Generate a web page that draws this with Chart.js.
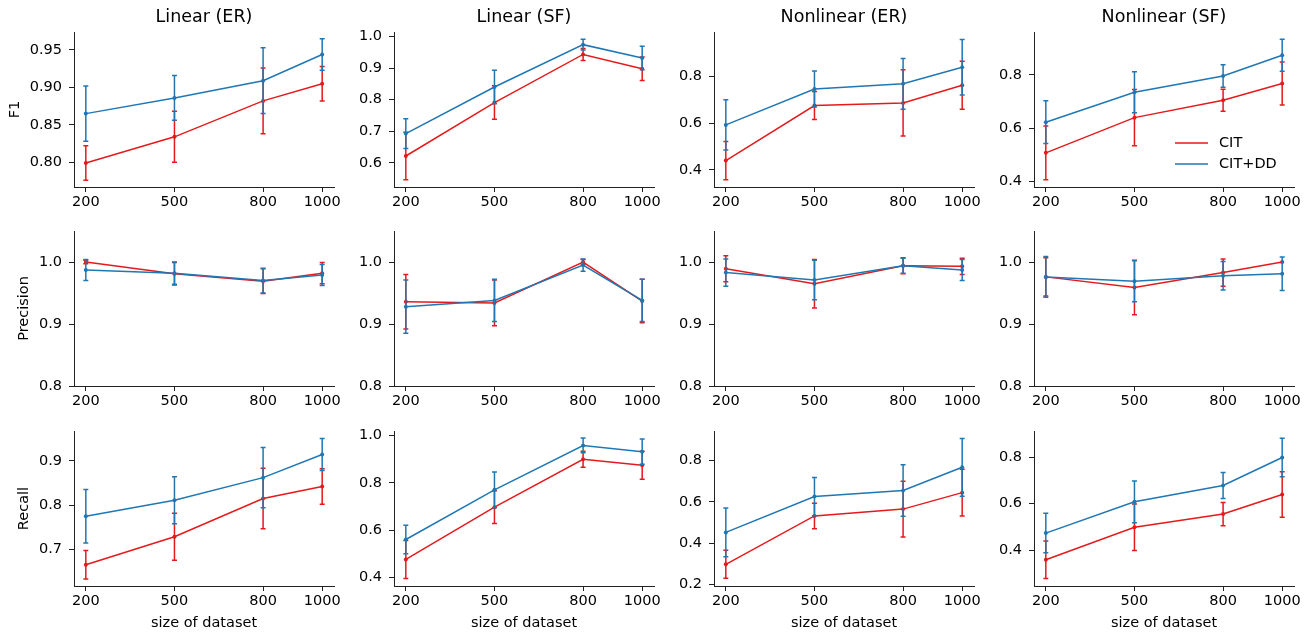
<!DOCTYPE html>
<html>
<head>
<meta charset="utf-8">
<script src="https://cdn.jsdelivr.net/npm/chart.js@4.4.1/dist/chart.umd.min.js"></script>
<style>
  html, body { margin: 0; padding: 0; background: #fff; }
  #wrap { position: relative; width: 1315px; height: 635px; overflow: hidden; }
  #wrap canvas { position: absolute; }
</style>
</head>
<body>
<div id="wrap"></div>
<script>
const sizes = [200, 500, 800, 1000];
const panelTitles = ['Linear (ER)', 'Linear (SF)', 'Nonlinear (ER)', 'Nonlinear (SF)'];
const metricNames = ['F1', 'Precision', 'Recall'];
const seriesNames = ['CIT', 'CIT+DD'];

// F1, one row per panel
const citF1 = [
  [0.799, 0.834, 0.882, 0.905],
  [0.622, 0.791, 0.943, 0.898],
  [0.440, 0.676, 0.687, 0.763],
  [0.508, 0.640, 0.705, 0.768]
];
const citF1Err = [
  [0.023, 0.034, 0.044, 0.023],
  [0.075, 0.053, 0.019, 0.037],
  [0.082, 0.060, 0.142, 0.103],
  [0.101, 0.105, 0.041, 0.081]
];
const ddF1 = [
  [0.865, 0.886, 0.909, 0.944],
  [0.693, 0.840, 0.974, 0.932],
  [0.593, 0.747, 0.769, 0.840],
  [0.623, 0.735, 0.796, 0.874]
];
const ddF1Err = [
  [0.037, 0.030, 0.044, 0.021],
  [0.047, 0.053, 0.017, 0.037],
  [0.108, 0.077, 0.109, 0.119],
  [0.080, 0.077, 0.042, 0.060]
];

// Precision
const citPrecision = [
  [1.000, 0.981, 0.969, 0.982],
  [0.936, 0.934, 1.000, 0.937],
  [0.989, 0.965, 0.994, 0.993],
  [0.976, 0.959, 0.983, 1.000]
];
const citPrecisionErr = [
  [0.003, 0.018, 0.020, 0.017],
  [0.044, 0.037, 0.004, 0.035],
  [0.021, 0.039, 0.013, 0.013],
  [0.031, 0.044, 0.022, 0.000]
];
const ddPrecision = [
  [0.987, 0.982, 0.970, 0.979],
  [0.928, 0.938, 0.995, 0.938],
  [0.983, 0.971, 0.994, 0.987],
  [0.976, 0.969, 0.978, 0.981]
];
const ddPrecisionErr = [
  [0.017, 0.018, 0.020, 0.017],
  [0.043, 0.034, 0.010, 0.034],
  [0.022, 0.032, 0.012, 0.017],
  [0.033, 0.033, 0.023, 0.027]
];

// Recall
const citRecall = [
  [0.666, 0.729, 0.815, 0.842],
  [0.477, 0.697, 0.899, 0.874],
  [0.297, 0.532, 0.565, 0.645],
  [0.358, 0.498, 0.555, 0.639]
];
const citRecallErr = [
  [0.032, 0.053, 0.068, 0.040],
  [0.080, 0.069, 0.034, 0.059],
  [0.068, 0.062, 0.135, 0.113],
  [0.081, 0.100, 0.050, 0.098]
];
const ddRecall = [
  [0.775, 0.811, 0.862, 0.914],
  [0.561, 0.770, 0.957, 0.931],
  [0.452, 0.626, 0.655, 0.768],
  [0.473, 0.608, 0.678, 0.799]
];
const ddRecallErr = [
  [0.060, 0.053, 0.068, 0.036],
  [0.060, 0.075, 0.031, 0.053],
  [0.118, 0.093, 0.125, 0.140],
  [0.085, 0.090, 0.056, 0.083]
];

// y limits and tick labels per panel
const f1Limits = [[0.767, 0.974], [0.524, 1.014], [0.327, 0.991], [0.38, 0.961]];
const precisionLimits = [[0.8, 1.05], [0.8, 1.05], [0.8, 1.05], [0.8, 1.05]];
const recallLimits = [[0.618, 0.967], [0.365, 1.018], [0.192, 0.944], [0.245, 0.913]];
const f1Ticks = [[0.80, 0.85, 0.90, 0.95], [0.6, 0.7, 0.8, 0.9, 1.0], [0.4, 0.6, 0.8], [0.4, 0.6, 0.8]];
const precisionTicks = [[0.8, 0.9, 1.0], [0.8, 0.9, 1.0], [0.8, 0.9, 1.0], [0.8, 0.9, 1.0]];
const recallTicks = [[0.7, 0.8, 0.9], [0.4, 0.6, 0.8, 1.0], [0.2, 0.4, 0.6, 0.8], [0.4, 0.6, 0.8]];

const rows = [
  { cit: citF1, citErr: citF1Err, dd: ddF1, ddErr: ddF1Err, lim: f1Limits, ticks: f1Ticks },
  { cit: citPrecision, citErr: citPrecisionErr, dd: ddPrecision, ddErr: ddPrecisionErr, lim: precisionLimits, ticks: precisionTicks },
  { cit: citRecall, citErr: citRecallErr, dd: ddRecall, ddErr: ddRecallErr, lim: recallLimits, ticks: recallTicks }
];

const RED = '#e41a1c';
const BLUE = '#1f77b4';
const FONT = 'DejaVu Sans';
const AXIS = '#222';

// plot area placement
const plotLeft = [74, 394, 714, 1034];
const plotTop = [32, 231, 431];
const plotW = 260, plotH = 155;
const yAxisW = 70, xAxisH = 50, padTop = 30, padRight = 14;

const errorBars = {
  id: 'errorBars',
  afterDatasetDraw(chart, args) {
    const ds = chart.data.datasets[args.index];
    if (!ds.errors) return;
    const { ctx, scales: { x, y } } = chart;
    ctx.save();
    ctx.strokeStyle = ds.borderColor;
    ctx.lineWidth = 1.5;
    ds.data.forEach((p, j) => {
      const e = ds.errors[j];
      if (!e) return;
      const px = x.getPixelForValue(p.x);
      const top = y.getPixelForValue(p.y + e);
      const bot = y.getPixelForValue(p.y - e);
      ctx.beginPath();
      ctx.moveTo(px, top); ctx.lineTo(px, bot);
      ctx.moveTo(px - 2.5, top); ctx.lineTo(px + 2.5, top);
      ctx.moveTo(px - 2.5, bot); ctx.lineTo(px + 2.5, bot);
      ctx.stroke();
    });
    ctx.restore();
  }
};

const cornerLegend = {
  id: 'cornerLegend',
  afterDraw(chart, args, opts) {
    if (!opts.show) return;
    const { ctx, chartArea } = chart;
    ctx.save();
    ctx.font = '14.5px "' + FONT + '"';
    ctx.textBaseline = 'middle';
    ctx.textAlign = 'left';
    chart.data.datasets.forEach((ds, i) => {
      const yy = chartArea.bottom - 44 + i * 21;
      const x0 = chartArea.right - 119;
      ctx.strokeStyle = ds.borderColor;
      ctx.lineWidth = 1.5;
      ctx.beginPath();
      ctx.moveTo(x0, yy); ctx.lineTo(x0 + 33, yy);
      ctx.stroke();
      ctx.fillStyle = '#000';
      ctx.fillText(ds.label, x0 + 44, yy);
    });
    ctx.restore();
  }
};

const wrap = document.getElementById('wrap');

rows.forEach((row, r) => {
  panelTitles.forEach((title, c) => {
    const canvas = document.createElement('canvas');
    canvas.width = yAxisW + plotW + padRight;
    canvas.height = padTop + plotH + xAxisH;
    canvas.style.left = (plotLeft[c] - yAxisW) + 'px';
    canvas.style.top = (plotTop[r] - padTop) + 'px';
    wrap.appendChild(canvas);

    const makeSet = (label, vals, errs, color, order) => ({
      label,
      data: sizes.map((x, j) => ({ x, y: vals[c][j] })),
      errors: errs[c],
      borderColor: color,
      backgroundColor: color,
      borderWidth: 1.5,
      pointRadius: 2,
      pointBorderWidth: 0,
      pointBackgroundColor: color,
      tension: 0,
      order
    });

    const dec = (r === 0 && c === 0) ? 2 : 1;
    const tickList = row.ticks[c];

    new Chart(canvas, {
      type: 'line',
      data: {
        datasets: [
          makeSet(seriesNames[0], row.cit, row.citErr, RED, 1),
          makeSet(seriesNames[1], row.dd, row.ddErr, BLUE, 0)
        ]
      },
      options: {
        responsive: false,
        animation: false,
        events: [],
        layout: {
          autoPadding: false,
          padding: { top: r === 0 ? 0 : padTop, left: 0, right: padRight, bottom: 0 }
        },
        plugins: {
          legend: { display: false },
          tooltip: { enabled: false },
          title: {
            display: r === 0,
            fullSize: false,
            text: title,
            color: '#000',
            font: { family: FONT, size: 17.5, weight: 'normal' },
            padding: { top: 5, bottom: 4 }
          },
          cornerLegend: { show: r === 0 && c === 3 }
        },
        scales: {
          x: {
            type: 'linear',
            min: 160,
            max: 1040,
            afterBuildTicks: s => { s.ticks = sizes.map(v => ({ value: v })); },
            afterFit: s => { s.height = xAxisH; },
            ticks: {
              autoSkip: false, maxRotation: 0, padding: 2, color: '#000',
              font: { family: FONT, size: 14.5 },
              callback: v => String(v)
            },
            grid: { display: true, drawOnChartArea: false, drawTicks: true, tickLength: 5, color: AXIS, lineWidth: 1 },
            border: { display: true, color: AXIS, width: 1 },
            title: {
              display: r === 2, text: 'size of dataset', color: '#000',
              font: { family: FONT, size: 14.5 }, padding: { top: 0, bottom: 4 }
            }
          },
          y: {
            min: row.lim[c][0],
            max: row.lim[c][1],
            afterBuildTicks: s => { s.ticks = tickList.map(v => ({ value: v })); },
            afterFit: s => { s.width = yAxisW; },
            ticks: {
              padding: 7, color: '#000',
              font: { family: FONT, size: 14.5 },
              callback: v => Number(v).toFixed(dec)
            },
            grid: { display: true, drawOnChartArea: false, drawTicks: true, tickLength: 5, color: AXIS, lineWidth: 1 },
            border: { display: true, color: AXIS, width: 1 },
            title: {
              display: c === 0, text: metricNames[r], color: '#000',
              font: { family: FONT, size: 14.5 }, padding: { top: r === 0 ? 3 : 12, bottom: 0 }
            }
          }
        }
      },
      plugins: [errorBars, cornerLegend]
    });
  });
});
</script>
</body>
</html>
